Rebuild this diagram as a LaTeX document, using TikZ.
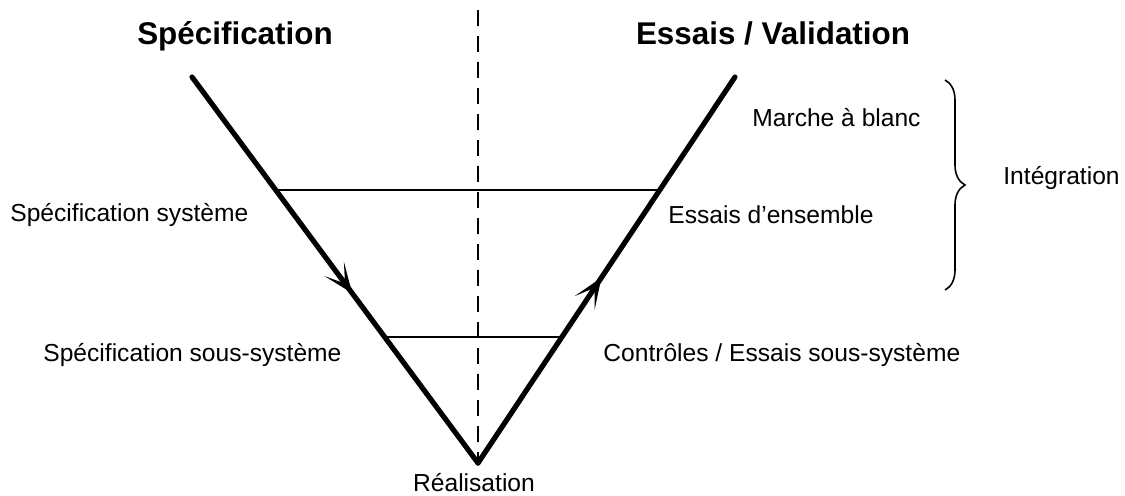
\documentclass[tikz,border=0pt]{standalone}
\usepackage{fontspec}
\setmainfont{Liberation Sans}
\usetikzlibrary{arrows.meta,decorations.markings,decorations.pathreplacing}

\begin{document}
\begin{tikzpicture}[
      x=0.5pt, y=-0.5pt,
      title/.style={font=\fontsize{15.7}{18}\selectfont\bfseries, anchor=base},
      lbl/.style={font=\fontsize{12.3}{14}\selectfont, inner sep=0pt},
      vtip/.tip={Stealth[length=15pt, width=12pt, inset=9pt]},
      vline/.style={line width=2.6pt, line cap=round, line join=miter},
      level/.style={line width=0.8pt},
    ]
    \useasboundingbox (0,0) rectangle (1125,495);
    % the V
    \coordinate (spec) at (192,77);
    \coordinate (real) at (478,463);
    \coordinate (essai) at (735,77);
    \draw[vline, postaction={decorate, decoration={markings,
          mark=at position 0.56 with {\arrow{vtip}}}}] (spec) -- (real);
    \draw[vline, postaction={decorate, decoration={markings,
          mark=at position 0.48 with {\arrow{vtip}}}}] (real) -- (essai);
    % axis
    \coordinate (axtop) at (478,10);
    \draw[dashed, dash pattern=on 8pt off 5pt, line width=0.6pt] (axtop) -- (real);
    % levels
    \draw[level] (276,190) coordinate (s1) -- (659,190) coordinate (e1);
    \draw[level] (385,337) coordinate (s2) -- (562,337) coordinate (e2);
    % titles
    \node[title] (tspec) at (235,44) {Spécification};
    \node[title] (tessai) at (773,44) {Essais / Validation};
    % labels
    \node[lbl, anchor=west] (specsys) at (10,215) {Spécification système};
    \node[lbl, anchor=west] (specsous) at (43,355) {Spécification sous-système};
    \node[lbl, anchor=west] (marche) at (752,118) {Marche à blanc};
    \node[lbl, anchor=west] (ensemble) at (668,215) {Essais d’ensemble};
    \node[lbl, anchor=west] (controle) at (603,355) {Contrôles / Essais sous-système};
    \node[lbl] (realis) at (474,483) {Réalisation};
    % integration
    \coordinate (br1) at (945,80);
    \coordinate (br2) at (945,290);
    \draw[line width=0.8pt, decorate, decoration={brace, amplitude=10pt}] (br1) -- (br2);
    \node[lbl, anchor=west] (integ) at (1003,178) {Intégration};
  \end{tikzpicture}
\end{document}
